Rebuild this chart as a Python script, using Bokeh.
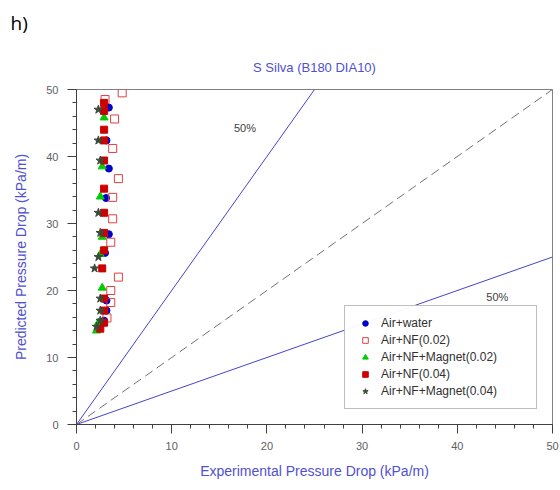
from bokeh.plotting import figure
from bokeh.models import Range1d, Label, Legend, LegendItem, FixedTicker, Title
from bokeh.embed import file_html
from bokeh.resources import INLINE

# ---- data ----
water_x = [3.4, 3.15, 3.4, 3.1, 3.4, 3.0, 3.15, 3.15, 2.9]
water_y = [47.3, 42.4, 38.2, 33.8, 28.4, 25.6, 18.5, 17.0, 15.5]

nf02_x = [4.8, 3.0, 4.0, 3.8, 4.4, 3.8, 3.8, 3.6, 4.4, 3.6, 3.6, 3.2]
nf02_y = [49.5, 48.5, 45.6, 41.2, 36.7, 33.9, 30.7, 27.2, 22.0, 20.0, 18.2, 15.9]

nfm02_x = [2.9, 2.7, 2.5, 2.7, 2.5, 2.7, 2.3, 2.1]
nfm02_y = [45.8, 38.5, 34.0, 28.0, 25.4, 20.4, 15.2, 14.0]

nf04_x = [2.9, 2.9, 2.9, 2.9, 2.9, 2.9, 2.9, 2.9, 2.9, 2.7, 2.9, 2.9, 2.9, 2.5]
nf04_y = [48.0, 46.8, 44.0, 42.4, 39.4, 35.2, 31.6, 28.6, 26.0, 23.3, 18.8, 17.0, 15.2, 14.3]

nfm04_x = [2.3, 2.3, 2.5, 2.3, 2.5, 2.3, 1.9, 2.5, 2.5, 2.5, 2.1]
nfm04_y = [47.0, 42.4, 39.4, 31.6, 28.6, 25.0, 23.3, 18.8, 17.0, 15.5, 14.6]

line_up_x = [0, 25]
line_up_y = [0, 50]
line_dn_x = [0, 50]
line_dn_y = [0, 25]
diag_x = [0, 50]
diag_y = [0, 50]

ticks = [0, 10, 20, 30, 40, 50]

title_text = "S Silva (B180 DIA10)"
panel_text = "h)"
x_label = "Experimental Pressure Drop (kPa/m)"
y_label = "Predicted Pressure Drop (kPa/m)"
legend_labels = ["Air+water", "Air+NF(0.02)", "Air+NF+Magnet(0.02)", "Air+NF(0.04)", "Air+NF+Magnet(0.04)"]

FONT = "Liberation Sans"
BLUE_TXT = "#5050d0"

p = figure(width=560, height=490, output_backend="svg", toolbar_location=None,
           x_range=Range1d(0, 50), y_range=Range1d(0, 50))
p.min_border_left = 76
p.min_border_right = 8
p.min_border_top = 0
p.min_border_bottom = 66
p.xgrid.visible = False
p.ygrid.visible = False
p.outline_line_color = "#808080"
p.outline_line_width = 1
p.background_fill_color = "white"
p.border_fill_color = "white"

# outer panel label (figure title), inner chart title
p.title.text = panel_text
p.title.align = "left"
p.title.offset = -66
p.title.text_font = "Open Sans"
p.title.text_font_size = "19px"
p.title.text_font_style = "normal"
p.title.text_color = "black"
p.title.standoff = 14

p.add_layout(Title(text=title_text, align="center", text_font=FONT,
                   text_font_size="13px", text_font_style="normal", text_color=BLUE_TXT,
                   standoff=30), "above")

for ax in (p.xaxis[0], p.yaxis[0]):
    ax.ticker = FixedTicker(ticks=ticks, minor_ticks=[i for i in range(0, 51, 2)])
    ax.axis_line_color = "#404040"
    ax.major_tick_line_color = "#404040"
    ax.minor_tick_line_color = "#404040"
    ax.major_tick_out = 9
    ax.major_tick_in = 0
    ax.minor_tick_out = 4
    ax.minor_tick_in = 0
    ax.major_label_text_font = FONT
    ax.major_label_text_font_size = "11px"
    ax.major_label_text_color = "#606060"
    ax.axis_label_text_font = FONT
    ax.axis_label_text_font_size = "14px"
    ax.axis_label_text_font_style = "normal"
    ax.axis_label_text_color = BLUE_TXT

p.xaxis.axis_label = x_label
p.yaxis.axis_label = y_label
p.xaxis.major_label_standoff = 8
p.xaxis.axis_label_standoff = 10
p.yaxis.major_label_standoff = 9
p.yaxis.axis_label_standoff = 14

# reference lines
p.line(line_up_x, line_up_y, line_color="#4444cc", line_width=1)
p.line(line_dn_x, line_dn_y, line_color="#4444cc", line_width=1)
p.line(diag_x, diag_y, line_color="#707070", line_width=1, line_dash="9 5")

p.add_layout(Label(x=17.7, y=44.2, text="50%", text_font=FONT, text_font_size="11px",
                   text_color="#404040", text_align="center", text_baseline="middle"))
p.add_layout(Label(x=44.2, y=19.0, text="50%", text_font=FONT, text_font_size="11px",
                   text_color="#404040", text_align="center", text_baseline="middle"))

# data
r1 = p.scatter(water_x, water_y, marker="circle", size=7, fill_color="#0000cc", line_color="#0000cc")
r2 = p.scatter(nf02_x, nf02_y, marker="square", size=8, fill_color="white", fill_alpha=0.0,
               line_color="#e04040", line_width=1)
r3 = p.scatter(nfm02_x, nfm02_y, marker="triangle", size=8, fill_color="#00cc00", line_color="#00cc00")
r4 = p.scatter(nf04_x, nf04_y, marker="square", size=7, fill_color="#cc0000", line_color="#cc0000")
r5 = p.scatter(nfm04_x, nfm04_y, marker="star", size=9, fill_color="#3a4a3a", line_color="#3a4a3a")

legend = Legend(items=[LegendItem(label=l, renderers=[r]) for l, r in
                       zip(legend_labels, [r1, r2, r3, r4, r5])],
                location=(268, 15))
legend.border_line_color = "#808080"
legend.border_line_width = 1
legend.padding = 10
legend.margin = 0
legend.spacing = 3
legend.glyph_width = 20
legend.glyph_height = 14
legend.label_height = 14
legend.label_width = 145
legend.label_standoff = 6
legend.label_text_font = FONT
legend.label_text_font_size = "12px"
legend.label_text_color = "#303030"
legend.background_fill_color = "white"
p.add_layout(legend, "center")

open("out.html", "w").write(file_html(p, INLINE))
